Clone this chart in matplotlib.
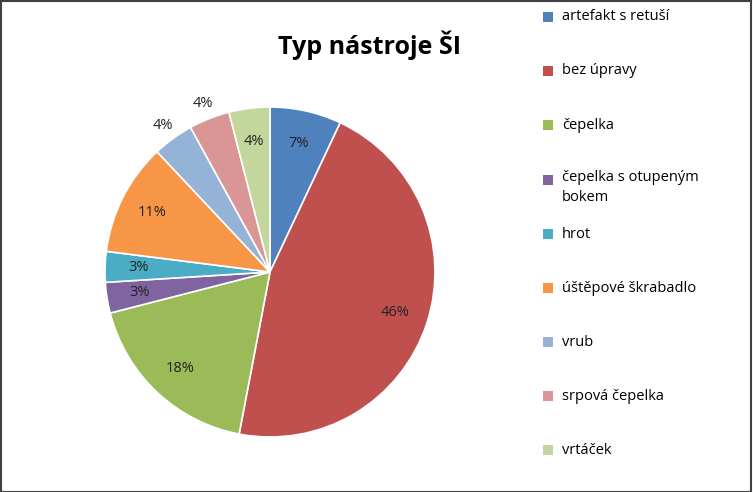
import numpy as np
import matplotlib
matplotlib.use('Agg')
import matplotlib.pyplot as plt
from matplotlib.patches import Rectangle

matplotlib.rcParams['font.family'] = 'Open Sans'

categories = ['artefakt s retuší', 'bez úpravy', 'čepelka', 'čepelka s otupeným\nbokem',
              'hrot', 'úštěpové škrabadlo', 'vrub', 'srpová čepelka', 'vrtáček']
values = [7, 46, 18, 3, 3, 11, 4, 4, 4]
colors = ['#4F81BD', '#C0504D', '#9BBB59', '#8064A2', '#4BACC6',
          '#F79646', '#95B3D7', '#D99694', '#C3D69B']
label_r = [0.8, 0.8, 0.8, 0.8, 0.8, 0.8, 1.1, 1.1, 0.8]

W, H = 753, 492
fig = plt.figure(figsize=(W / 100, H / 100), dpi=100)
fig.patch.set_facecolor('white')
fig.add_artist(Rectangle((0.001, 0.001), 0.997, 0.996, transform=fig.transFigure,
                         fill=False, edgecolor='#404040', linewidth=1.5))

cx, cy, r = 270, 272, 165
ax = fig.add_axes([(cx - r) / W, (H - cy - r) / H, 2 * r / W, 2 * r / H])
wedges, _ = ax.pie(values, colors=colors, startangle=90, counterclock=False,
                   wedgeprops=dict(edgecolor='white', linewidth=1.2))
ax.set_xlim(-1, 1)
ax.set_ylim(-1, 1)
ax.set_aspect('auto')

total = sum(values)
cum = 0
for v, lr in zip(values, label_r):
    mid = np.deg2rad(90 - (cum + v / 2) / total * 360)
    cum += v
    ax.text(lr * np.cos(mid), lr * np.sin(mid), f'{round(v / total * 100)}%',
            ha='center', va='center', fontsize=10.5, color='#222222')

fig.text(370 / W, 1 - 45 / H, 'Typ nástroje ŠI', ha='center', va='center',
         fontsize=18, fontweight='bold')

ys = [17, 71, 125, 180, 234, 288, 342, 396, 450]
for name, col, y in zip(categories, colors, ys):
    fig.add_artist(Rectangle((543 / W, 1 - (y + 5) / H), 10 / W, 10 / H,
                             transform=fig.transFigure, facecolor=col, edgecolor='none'))
    fig.text(562 / W, 1 - y / H, name, ha='left', va='top' if '\n' in name else 'center',
             fontsize=10.5, linespacing=1.5,
             transform=fig.transFigure) if '\n' not in name else \
        fig.text(562 / W, 1 - (y - 10) / H, name, ha='left', va='top',
                 fontsize=10.5, linespacing=1.5)

fig.savefig('out.png', dpi=100)
